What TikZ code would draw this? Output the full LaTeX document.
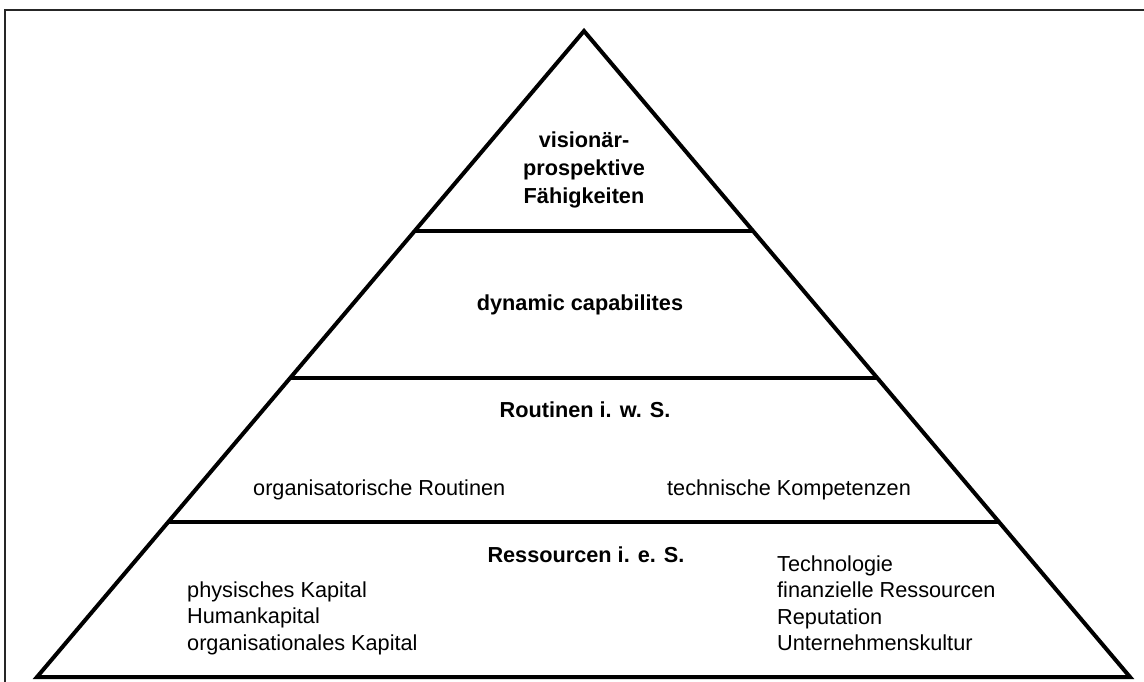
\documentclass[tikz,border=0pt]{standalone}
\usepackage{fontspec}
\setmainfont{Liberation Sans}
\usetikzlibrary{positioning,calc}

\begin{document}
\begin{tikzpicture}
  [x=1pt,y=-1pt,every node/.style={inner sep=0pt,font=\fontsize{21.7}{26.5}\selectfont},
   titel/.style={align=center,font=\fontsize{21.7}{28}\selectfont\bfseries},
   zeile/.style={anchor=base west},
   liste/.style={align=left,anchor=west}]
  \useasboundingbox (0,0) rectangle (1144,682);
  \draw[line width=1.5pt,black!85] (5,684) -- (5,10) -- (1146,10);

  % pyramid
  \coordinate (apex) at (584,31);
  \coordinate (bl) at (37,677);
  \coordinate (br) at (1130,677);
  \draw[line width=4pt,line join=miter] (bl) -- (apex) -- (br) -- cycle;
  \draw[line width=4pt] ($(apex)!200/646!(bl)$) -- ($(apex)!200/646!(br)$);
  \draw[line width=4pt] ($(apex)!347/646!(bl)$) -- ($(apex)!347/646!(br)$);
  \draw[line width=4pt] ($(apex)!491/646!(bl)$) -- ($(apex)!491/646!(br)$);

  \node[titel] (vis) at (584,170) {visionär-\\prospektive\\Fähigkeiten};
  \node[titel] (dyn) at (580,305) {dynamic capabilites};
  \node[titel] (rout) at (585,410) {Routinen i. w. S.};
  \node[zeile] (org) at (253,495) {organisatorische Routinen};
  \node[zeile] (tech) at (667,495) {technische Kompetenzen};
  \node[titel] (res) at (586,555) {Ressourcen i. e. S.};
  \node[liste] (links) at (187,618) {physisches Kapital\\Humankapital\\organisationales Kapital};
  \node[liste] (rechts) at (777,603) {Technologie\\finanzielle Ressourcen\\Reputation\\Unternehmenskultur};
\end{tikzpicture}
\end{document}
